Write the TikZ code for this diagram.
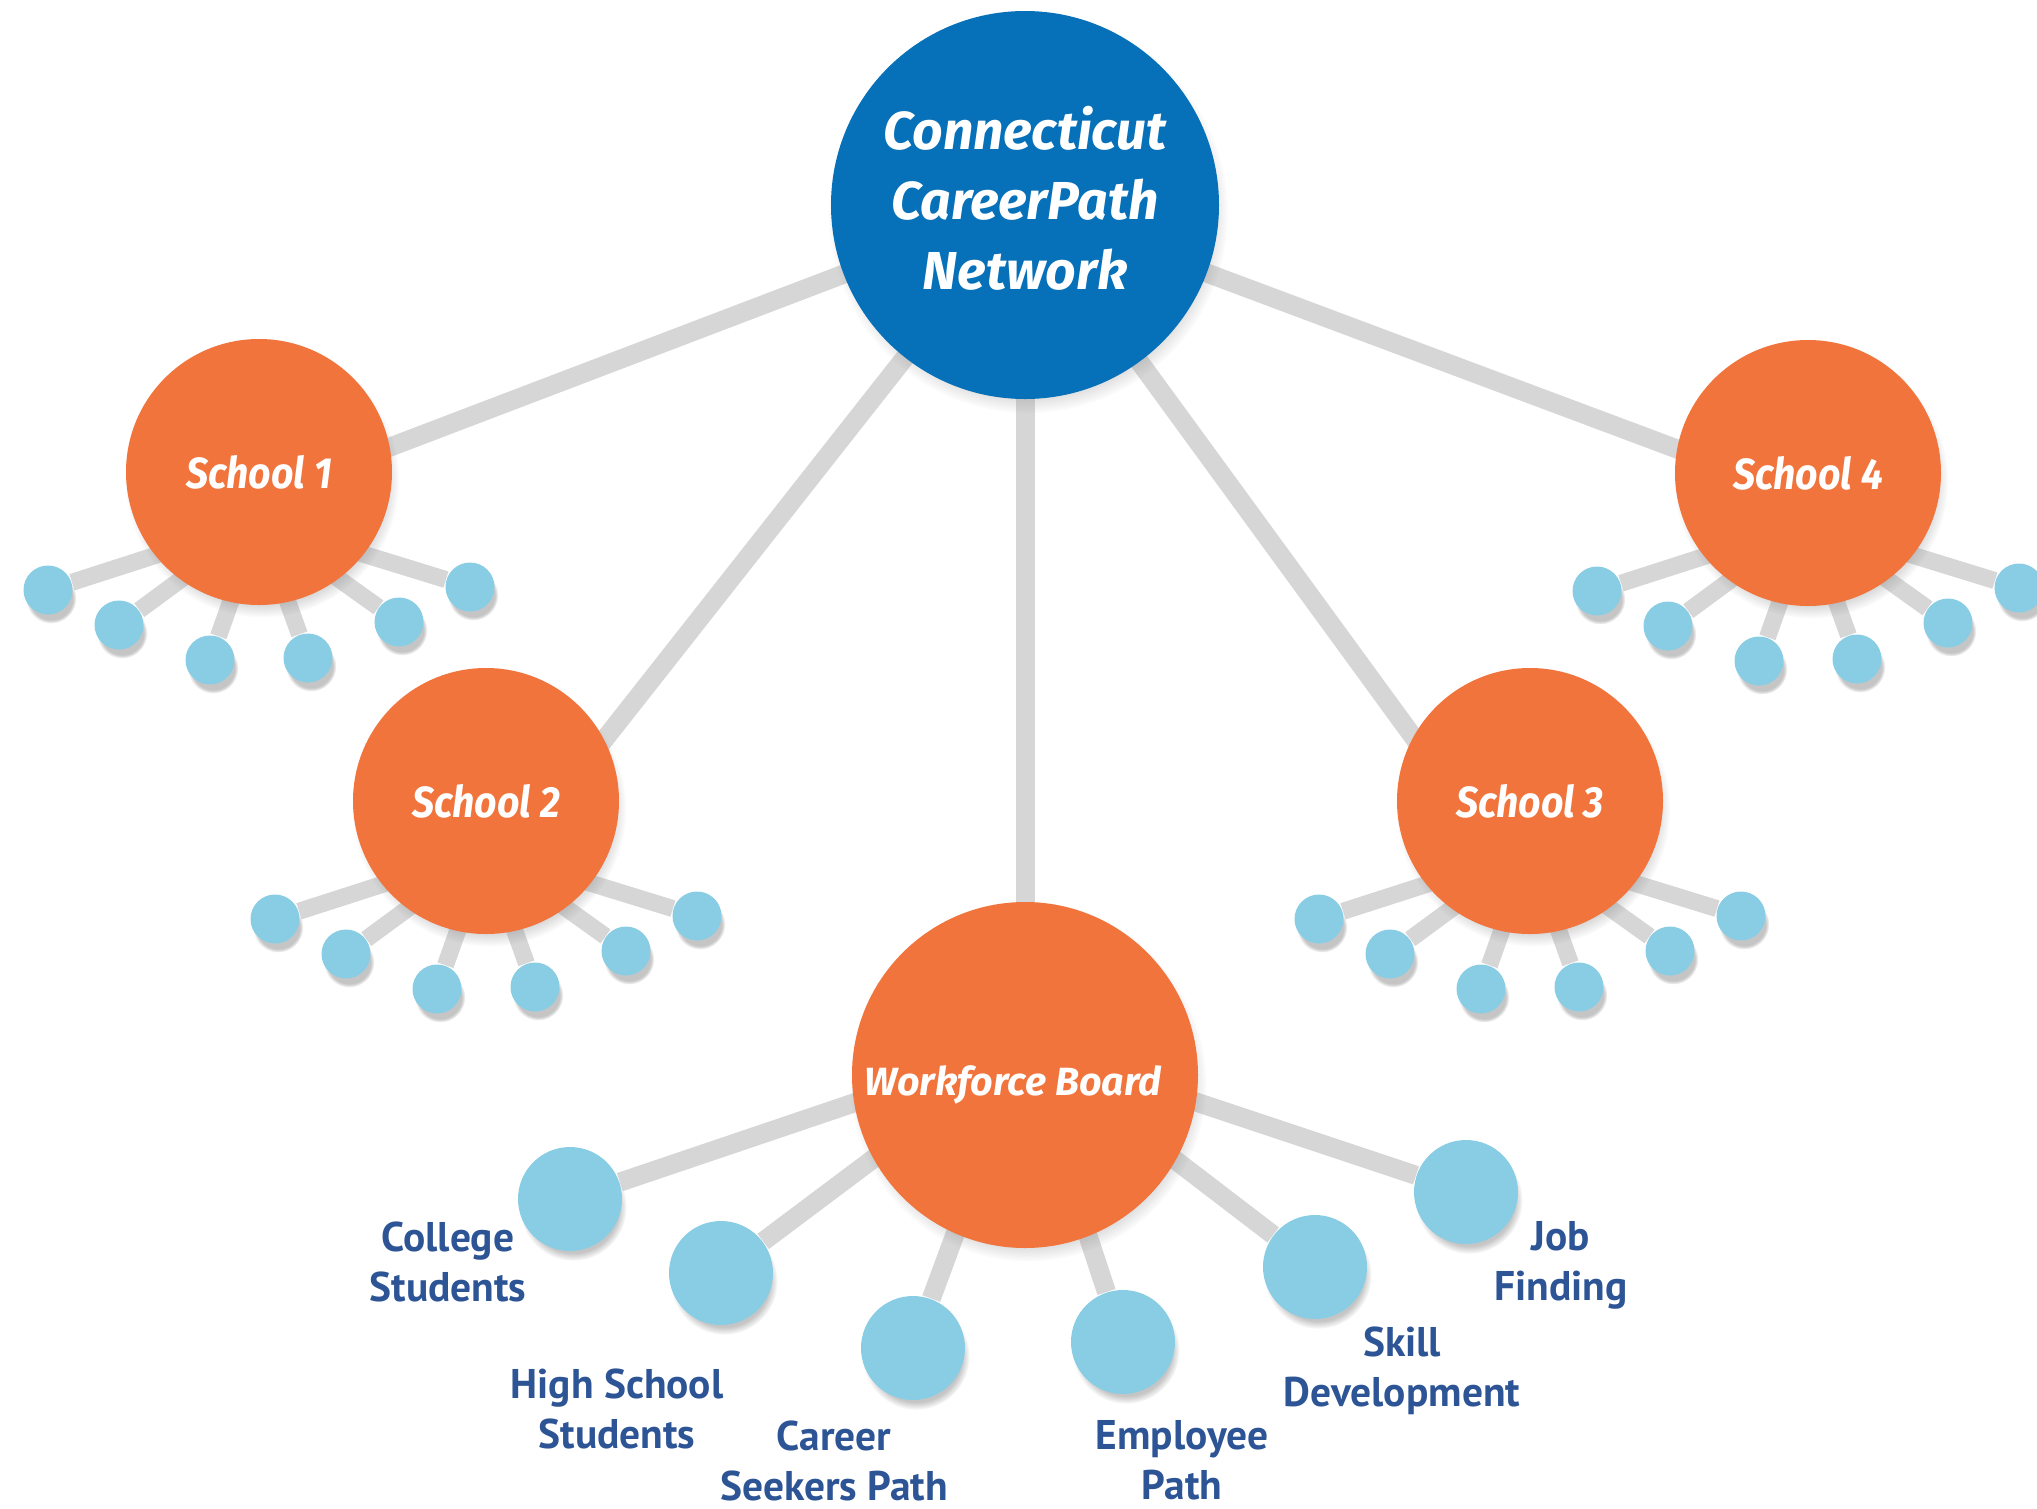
\documentclass[tikz,border=0pt]{standalone}
\usepackage{fontspec}
\usepackage{tikz}
\setmainfont{PT Sans}
\newfontfamily\titlefont[FakeStretch=0.9]{Fira Sans}
\newfontfamily\hubfont{Fira Sans}
\newfontfamily\labelfont{PT Sans}
\definecolor{ctblue}{RGB}{6,112,185}
\definecolor{orange}{RGB}{240,116,60}
\definecolor{dotblue}{RGB}{137,205,229}
\definecolor{spokegray}{RGB}{214,214,214}
\definecolor{labelblue}{RGB}{45,85,150}
\usetikzlibrary{positioning,backgrounds,shadows}
\tikzset{%
  softshadow/.style={circular drop shadow={shadow xshift=0.03cm, shadow yshift=-0.08cm,
    shadow scale=1.03, opacity=0.45}},% blurred shadow under every disc
  hub/.style={circle, fill=ctblue, minimum size=3.88cm, inner sep=0, softshadow,
    text=white, align=center, text depth=0.14cm,
    font=\hubfont\bfseries\itshape\fontsize{15.2}{19.9}\selectfont},
  school/.style={circle, fill=orange, minimum size=2.66cm, inner sep=0, softshadow,
    text=white, font=\titlefont\bfseries\itshape\fontsize{12.4}{15}\selectfont},
  board/.style={school, minimum size=3.46cm, text height=0.5cm,
    font=\hubfont\bfseries\itshape\fontsize{11.2}{14}\selectfont},
  dot/.style={circle, fill=dotblue, minimum size=0.49cm, inner sep=0, softshadow},% small satellite
  bigdot/.style={dot, minimum size=1.04cm},% satellite of the board
  spoke/.style={draw=spokegray, line width=0.19cm},% main links
  twig/.style={draw=spokegray, line width=0.17cm},% satellite links
  caption/.style={text=labelblue, align=center, anchor=north, inner sep=0,
    font=\labelfont\bfseries\fontsize{11.8}{14.2}\selectfont}
}
% six small satellites under a school, linked to a point below its centre
\newcommand*{\twigs}[1]{%
  \foreach \dx/\dy [count=\i] in {-2.11/-1.18,-1.40/-1.53,-0.49/-1.88,0.49/-1.86,1.40/-1.50,2.11/-1.15}{%
    \node[dot] (#1-\i) at ([shift={(\dx,\dy)}]#1.center) {};
    \begin{pgfonlayer}{background}
      \draw[twig] ([yshift=-0.5cm]#1.center) -- (#1-\i);
    \end{pgfonlayer}
  }%
}

\begin{document}
\begin{tikzpicture}
\useasboundingbox (0,0) rectangle (20.37,-15.09);
\begin{pgfonlayer}{background}
\fill[white] (0,0) rectangle (20.37,-15.09);
\end{pgfonlayer}

\node[hub] (ct) at (10.25, -2.05) {Connecticut\\CareerPath\\Network};

\node[school] (s1) at (2.59, -4.72)  {School 1};
\node[school] (s2) at (4.86, -8.01)  {School 2};
\node[school] (s3) at (15.30, -8.01) {School 3};
\node[school] (s4) at (18.08, -4.73) {School 4};
\node[board]  (wb) at (10.25, -10.75) {Workforce Board\hspace*{0.24cm}};

\begin{pgfonlayer}{background}
\draw[spoke] (ct.center) -- ([yshift=-0.25cm]s1.center);
\draw[spoke] (ct.center) -- ([xshift=0.7cm]s2.center);
\draw[spoke] (ct.center) -- (wb.center);
\draw[spoke] (ct.center) -- ([xshift=-0.7cm]s3.center);
\draw[spoke] (ct.center) -- ([yshift=-0.25cm]s4.center);
\end{pgfonlayer}

\twigs{s1}
\twigs{s2}
\twigs{s3}
\twigs{s4}

\node[bigdot] (col) at (5.70, -11.99)  {};
\node[bigdot] (hss) at (7.21, -12.73)  {};
\node[bigdot] (car) at (9.13, -13.48)  {};
\node[bigdot] (emp) at (11.23, -13.42) {};
\node[bigdot] (ski) at (13.15, -12.67) {};
\node[bigdot] (job) at (14.66, -11.92) {};

\begin{pgfonlayer}{background}
\foreach \t in {col,hss,car,emp,ski,job}
  \draw[spoke] ([yshift=0.3cm]wb.center) -- (\t);
\end{pgfonlayer}

\node[caption] (colt) at (4.48, -12.21)  {College\\Students};
\node[caption] (hsst) at (6.17, -13.68)  {High School\\Students};
\node[caption] (cart) at (8.34, -14.20)  {Career\\Seekers Path};
\node[caption] (empt) at (11.82, -14.20) {Employee\\Path};
\node[caption] (skit) at (14.02, -13.26) {Skill\\Development};
\node[caption] (jobt) at (15.61, -12.21) {Job\\Finding};

\end{tikzpicture}
\end{document}
